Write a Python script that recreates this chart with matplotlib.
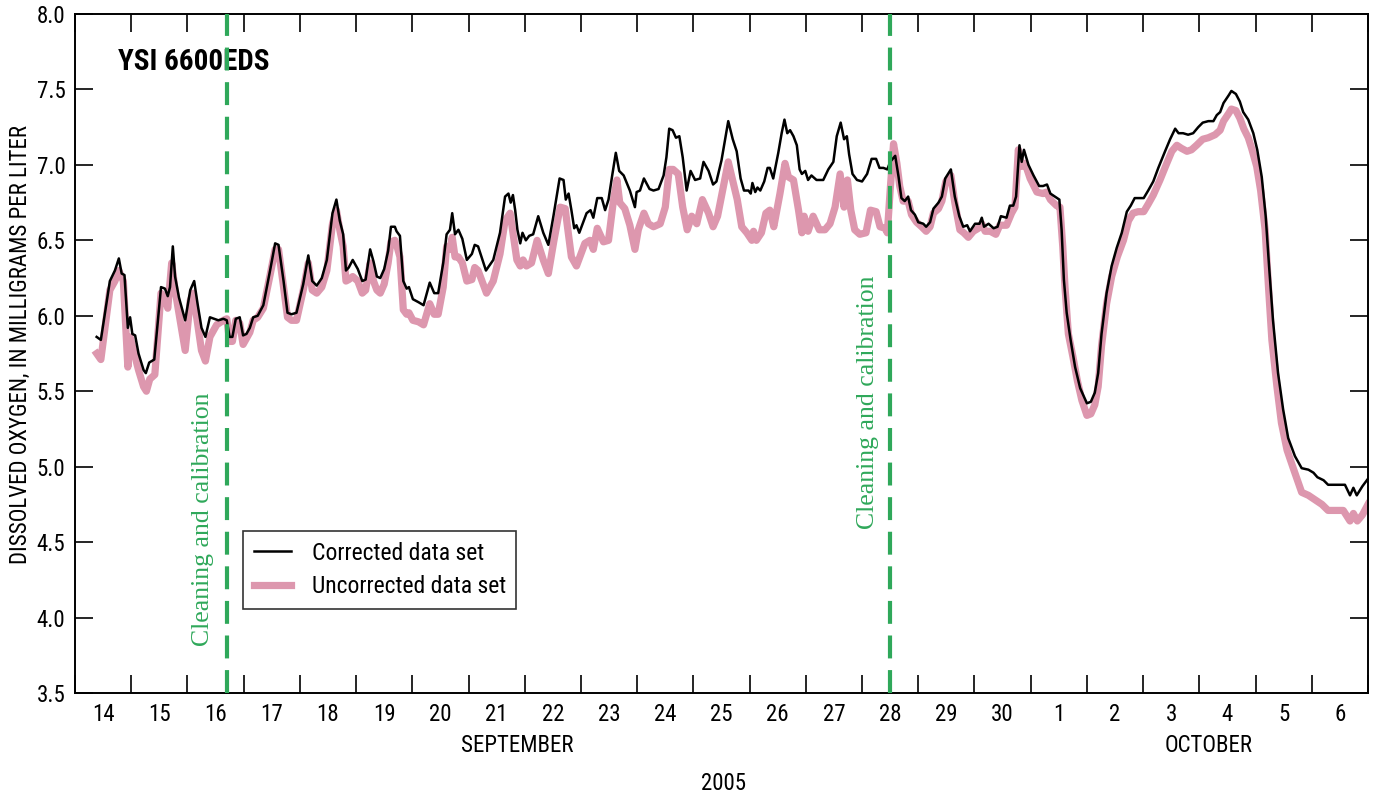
import matplotlib
matplotlib.use("Agg")
import matplotlib.pyplot as plt
from matplotlib import font_manager
from matplotlib.lines import Line2D

# ---------------- data (days since 14 Sep 2005 00:00, mg/L) ----------------
corr_day = [0.385, 0.46, 0.62, 0.71, 0.78, 0.83, 0.88, 0.94, 0.98, 1.02, 1.07, 1.13, 1.22, 1.26, 1.32, 1.41,
            1.53, 1.60, 1.65, 1.69, 1.74, 1.78, 1.85, 1.96, 2.05, 2.12, 2.18, 2.25, 2.32, 2.40, 2.55, 2.64,
            2.70, 2.75, 2.80, 2.86, 2.93, 2.99, 3.05, 3.11, 3.17, 3.25, 3.35, 3.47, 3.56, 3.62, 3.71, 3.78,
            3.85, 3.94, 4.06, 4.15, 4.22, 4.30, 4.39, 4.48, 4.58, 4.65, 4.71, 4.77, 4.82, 4.87, 4.94, 5.03,
            5.11, 5.17, 5.25, 5.31, 5.37, 5.43, 5.50, 5.57, 5.62, 5.69, 5.72, 5.78, 5.84, 5.90, 5.94, 6.01,
            6.11, 6.20, 6.31, 6.39, 6.46, 6.55, 6.61, 6.67, 6.71, 6.76, 6.82, 6.89, 6.97, 7.06, 7.11, 7.17,
            7.31, 7.44, 7.56, 7.65, 7.71, 7.75, 7.79, 7.83, 7.87, 7.92, 7.96, 8.02, 8.08, 8.15, 8.24, 8.33,
            8.42, 8.51, 8.62, 8.69, 8.73, 8.78, 8.83, 8.88, 8.92, 8.97, 9.04, 9.10, 9.17, 9.22, 9.29, 9.37,
            9.43, 9.49, 9.56, 9.62, 9.68, 9.76, 9.87, 9.96, 9.99, 10.05, 10.12, 10.22, 10.29, 10.38, 10.47,
            10.52, 10.57, 10.63, 10.69, 10.75, 10.81, 10.88, 10.95, 11.03, 11.12, 11.18, 11.27, 11.35, 11.41,
            11.50, 11.62, 11.70, 11.77, 11.84, 11.90, 11.98, 12.02, 12.05, 12.10, 12.14, 12.19, 12.26, 12.32,
            12.36, 12.42, 12.51, 12.57, 12.62, 12.67, 12.72, 12.78, 12.84, 12.89, 12.93, 12.99, 13.04, 13.10,
            13.19, 13.31, 13.40, 13.49, 13.55, 13.62, 13.68, 13.73, 13.77, 13.83, 13.91, 14.00, 14.09, 14.17,
            14.25, 14.31, 14.38, 14.45,
            14.50, 14.59, 14.65, 14.70, 14.76, 14.82, 14.87, 14.94, 15.00, 15.09, 15.14, 15.21, 15.27, 15.36,
            15.42, 15.48, 15.58, 15.65, 15.73, 15.80, 15.87, 15.92, 16.01, 16.09, 16.13, 16.17, 16.25, 16.34,
            16.41, 16.47, 16.57, 16.63, 16.69, 16.74, 16.80, 16.84, 16.88, 16.96, 17.05, 17.15, 17.22, 17.29,
            17.35, 17.43, 17.51, 17.55, 17.59, 17.64, 17.71, 17.79, 17.88, 18.00, 18.07, 18.14, 18.20, 18.26,
            18.35, 18.44, 18.53, 18.62, 18.71, 18.78, 18.85, 18.94, 19.01, 19.09, 19.18, 19.27, 19.39, 19.48,
            19.57, 19.63, 19.71, 19.80, 19.89, 19.98, 20.06, 20.16, 20.25, 20.31, 20.37, 20.43, 20.52, 20.57,
            20.65, 20.72, 20.78, 20.87, 20.96, 21.03, 21.11, 21.18, 21.24, 21.31, 21.40, 21.49, 21.58, 21.70,
            21.82, 21.94, 22.03, 22.10, 22.21, 22.29, 22.38, 22.50, 22.59, 22.68, 22.74, 22.80, 22.90, 23.00]
corr_val = [5.86, 5.84, 6.23, 6.30, 6.38, 6.28, 6.27, 5.92, 5.99, 5.88, 5.87, 5.75, 5.64, 5.62, 5.69, 5.71,
            6.19, 6.18, 6.13, 6.19, 6.46, 6.26, 6.12, 5.97, 6.17, 6.23, 6.08, 5.92, 5.86, 5.99, 5.97, 5.98,
            5.97, 5.86, 5.86, 5.98, 5.99, 5.87, 5.88, 5.92, 5.99, 6.00, 6.07, 6.30, 6.48, 6.47, 6.23, 6.02,
            6.01, 6.02, 6.21, 6.40, 6.23, 6.20, 6.25, 6.37, 6.68, 6.77, 6.63, 6.54, 6.30, 6.32, 6.37, 6.31,
            6.23, 6.24, 6.44, 6.36, 6.26, 6.25, 6.31, 6.43, 6.59, 6.59, 6.56, 6.53, 6.23, 6.18, 6.19, 6.11,
            6.09, 6.07, 6.22, 6.15, 6.15, 6.35, 6.54, 6.57, 6.68, 6.54, 6.57, 6.51, 6.37, 6.41, 6.47, 6.46,
            6.30, 6.37, 6.55, 6.79, 6.81, 6.75, 6.80, 6.70, 6.57, 6.48, 6.55, 6.50, 6.53, 6.54, 6.66, 6.55,
            6.47, 6.66, 6.91, 6.90, 6.77, 6.81, 6.70, 6.58, 6.60, 6.55, 6.62, 6.68, 6.70, 6.65, 6.78, 6.78,
            6.70, 6.77, 6.94, 7.08, 6.96, 6.93, 6.83, 6.72, 6.82, 6.83, 6.91, 6.84, 6.83, 6.84, 6.93,
            7.05, 7.24, 7.23, 7.18, 7.19, 7.05, 6.83, 6.96, 6.90, 6.91, 7.02, 6.96, 6.87, 6.89,
            7.03, 7.29, 7.17, 7.09, 6.91, 6.83, 6.83, 6.81, 6.88, 6.82, 6.85, 6.83, 6.89, 6.98,
            6.98, 6.91, 7.08, 7.21, 7.30, 7.21, 7.23, 7.19, 7.13, 6.97, 6.94, 6.96, 6.90, 6.93,
            6.90, 6.90, 6.97, 7.02, 7.19, 7.28, 7.17, 7.19, 7.07, 6.94, 6.90, 6.89, 6.94, 7.04,
            7.04, 6.98, 6.98, 6.97,
            7.02, 7.06, 6.92, 6.78, 6.76, 6.79, 6.70, 6.67, 6.62, 6.61, 6.59, 6.62, 6.71, 6.75,
            6.79, 6.91, 6.97, 6.79, 6.66, 6.59, 6.60, 6.56, 6.61, 6.61, 6.65, 6.59, 6.61, 6.58,
            6.59, 6.66, 6.65, 6.73, 6.73, 6.79, 7.13, 7.02, 7.10, 7.00, 6.93, 6.86, 6.86, 6.87,
            6.81, 6.79, 6.77, 6.57, 6.24, 6.02, 5.84, 5.66, 5.52, 5.42, 5.43, 5.49, 5.62, 5.88,
            6.15, 6.33, 6.45, 6.55, 6.69, 6.73, 6.78, 6.78, 6.78, 6.83, 6.89, 6.98, 7.09, 7.17,
            7.24, 7.21, 7.21, 7.20, 7.21, 7.25, 7.28, 7.29, 7.29, 7.33, 7.35, 7.41, 7.46, 7.49,
            7.47, 7.42, 7.35, 7.30, 7.21, 7.10, 6.92, 6.66, 6.33, 5.97, 5.62, 5.38, 5.19, 5.07,
            4.99, 4.98, 4.96, 4.93, 4.91, 4.88, 4.88, 4.88, 4.88, 4.81, 4.86, 4.81, 4.87, 4.92]

unc_day = [0.385, 0.46, 0.62, 0.71, 0.78, 0.86, 0.94, 0.98, 1.04, 1.13, 1.22, 1.27, 1.33, 1.42, 1.53, 1.61,
           1.65, 1.72, 1.78, 1.87, 1.96, 2.05, 2.10, 2.18, 2.25, 2.32, 2.40, 2.52, 2.64, 2.70, 2.75, 2.80,
           2.86, 2.93, 2.99, 3.05, 3.11, 3.17, 3.25, 3.35, 3.47, 3.56, 3.62, 3.71, 3.78, 3.85, 3.94, 4.06,
           4.15, 4.22, 4.30, 4.39, 4.48, 4.58, 4.65, 4.71, 4.77, 4.82, 4.87, 4.94, 5.03, 5.11, 5.17, 5.25,
           5.31, 5.37, 5.43, 5.50, 5.57, 5.62, 5.69, 5.72, 5.78, 5.84, 5.90, 5.94, 6.01, 6.11, 6.20, 6.31,
           6.39, 6.46, 6.55, 6.61, 6.67, 6.71, 6.76, 6.82, 6.89, 6.97, 7.06, 7.11, 7.17,
           7.32, 7.44, 7.56, 7.65, 7.74, 7.79, 7.86, 7.92, 7.97, 8.03, 8.12, 8.22, 8.33, 8.42, 8.52, 8.63,
           8.72, 8.76, 8.83, 8.92, 8.98, 9.07, 9.16, 9.22, 9.29, 9.40, 9.49, 9.58, 9.64, 9.69, 9.78, 9.87,
           9.96, 10.02, 10.12, 10.20, 10.29, 10.41, 10.50, 10.57, 10.64, 10.73, 10.81, 10.89, 10.97, 11.06,
           11.16, 11.27, 11.35, 11.43, 11.52, 11.62, 11.71, 11.78, 11.86, 11.95, 12.04, 12.07, 12.12, 12.21,
           12.29, 12.36, 12.43, 12.54, 12.63, 12.69, 12.78, 12.87, 12.93, 12.97, 13.04, 13.13, 13.24, 13.34,
           13.43, 13.52, 13.61, 13.68, 13.74, 13.80, 13.87, 13.96, 14.07, 14.15, 14.25, 14.32, 14.41, 14.45,
           14.50, 14.56, 14.62, 14.67, 14.73, 14.82, 14.88, 14.97, 15.06, 15.14, 15.21, 15.27, 15.36, 15.42,
           15.49, 15.58, 15.65, 15.74, 15.81, 15.89, 15.98, 16.07, 16.13, 16.19, 16.28, 16.38, 16.45, 16.57,
           16.66, 16.72, 16.78, 16.84, 16.90, 16.99, 17.11, 17.22, 17.28, 17.35, 17.46, 17.52, 17.57, 17.61,
           17.67, 17.75, 17.83, 17.91, 18.00, 18.07, 18.14, 18.20, 18.26, 18.35, 18.44, 18.54, 18.65, 18.74,
           18.82, 18.91, 19.01, 19.09, 19.18, 19.30, 19.42, 19.51, 19.60, 19.68, 19.78, 19.86, 19.95, 20.06,
           20.16, 20.28, 20.37, 20.43, 20.52, 20.57, 20.65, 20.72, 20.79, 20.87, 20.93, 21.02, 21.09, 21.17,
           21.23, 21.29, 21.38, 21.46, 21.56, 21.67, 21.82, 21.94, 22.06, 22.18, 22.29, 22.41, 22.56, 22.68,
           22.74, 22.81, 22.90, 23.00]
unc_val = [5.75, 5.71, 6.17, 6.23, 6.30, 6.23, 5.66, 5.86, 5.77, 5.64, 5.53, 5.50, 5.58, 5.61, 6.15, 6.11,
           6.05, 6.35, 6.17, 5.97, 5.77, 6.10, 6.15, 5.95, 5.77, 5.70, 5.86, 5.94, 5.97, 5.98, 5.83, 5.83,
           5.97, 5.95, 5.81, 5.85, 5.89, 5.97, 5.99, 6.05, 6.27, 6.44, 6.44, 6.19, 5.99, 5.97, 5.97, 6.17,
           6.35, 6.17, 6.15, 6.19, 6.30, 6.61, 6.70, 6.57, 6.46, 6.23, 6.24, 6.26, 6.23, 6.15, 6.17, 6.35,
           6.23, 6.17, 6.15, 6.21, 6.35, 6.49, 6.50, 6.47, 6.39, 6.04, 6.01, 6.02, 5.97, 5.96, 5.94, 6.08,
           6.01, 6.01, 6.19, 6.46, 6.44, 6.52, 6.39, 6.39, 6.35, 6.23, 6.24, 6.32, 6.30,
           6.15, 6.23, 6.41, 6.63, 6.68, 6.55, 6.37, 6.33, 6.37, 6.33, 6.35, 6.50, 6.37, 6.28, 6.50, 6.72,
           6.71, 6.59, 6.39, 6.33, 6.39, 6.48, 6.50, 6.44, 6.58, 6.49, 6.50, 6.77, 6.90, 6.75, 6.71, 6.60,
           6.44, 6.57, 6.68, 6.61, 6.59, 6.61, 6.72, 6.97, 6.97, 6.94, 6.72, 6.57, 6.66, 6.61,
           6.77, 6.68, 6.59, 6.66, 6.83, 7.02, 6.88, 6.77, 6.59, 6.55, 6.50, 6.56, 6.50, 6.55,
           6.68, 6.70, 6.59, 6.81, 7.01, 6.92, 6.90, 6.70, 6.55, 6.66, 6.56, 6.66, 6.57, 6.57,
           6.61, 6.72, 6.94, 6.72, 6.90, 6.70, 6.57, 6.54, 6.55, 6.70, 6.69, 6.59, 6.58, 6.55,
           6.83, 7.14, 7.01, 6.86, 6.76, 6.76, 6.67, 6.62, 6.59, 6.56, 6.59, 6.68, 6.71, 6.76,
           6.89, 6.93, 6.75, 6.57, 6.55, 6.52, 6.56, 6.58, 6.61, 6.56, 6.56, 6.54, 6.60, 6.60,
           6.68, 6.72, 7.10, 6.99, 7.01, 6.91, 6.82, 6.81, 6.82, 6.77, 6.73, 6.72, 6.46, 6.19,
           5.88, 5.73, 5.57, 5.44, 5.34, 5.35, 5.41, 5.53, 5.80, 6.08, 6.26, 6.39, 6.50, 6.63,
           6.68, 6.69, 6.69, 6.74, 6.80, 6.90, 7.01, 7.09, 7.13, 7.11, 7.09, 7.10, 7.13, 7.17,
           7.18, 7.20, 7.23, 7.29, 7.34, 7.37, 7.36, 7.31, 7.24, 7.18, 7.11, 6.99, 6.83, 6.57,
           6.19, 5.84, 5.53, 5.29, 5.11, 4.99, 4.83, 4.81, 4.78, 4.75, 4.71, 4.71, 4.71, 4.64,
           4.69, 4.64, 4.68, 4.75]

calib_day = [2.70, 14.50]
day_labels = ['14', '15', '16', '17', '18', '19', '20', '21', '22', '23', '24', '25', '26', '27', '28',
              '29', '30', '1', '2', '3', '4', '5', '6']
y_ticks = [3.5, 4.0, 4.5, 5.0, 5.5, 6.0, 6.5, 7.0, 7.5, 8.0]

# ---------------- fonts ----------------
names = {f.name for f in font_manager.fontManager.ttflist}
cond = 'DejaVu Sans'
for cand in ['Liberation Sans Narrow', 'Roboto Condensed', 'Open Sans Condensed', 'Liberation Sans']:
    if cand in names:
        cond = cand
        break
plt.rcParams['font.family'] = [cond, 'DejaVu Sans']

PINK = '#dd97ae'
GREEN = '#2fa85a'

fig = plt.figure(figsize=(13.76, 7.97), dpi=100)
ax = fig.add_axes([75 / 1376, 1 - 693 / 797, 1293 / 1376, 679 / 797])

ax.plot(unc_day, unc_val, color=PINK, lw=5.2, solid_joinstyle='round', zorder=2)
ax.plot(corr_day, corr_val, color='black', lw=1.8, zorder=3)

for d in calib_day:
    ax.axvline(d, color=GREEN, lw=3, linestyle=(0, (5.5, 2.8)), zorder=4)

ax.set_xlim(0, 23)
ax.set_ylim(3.5, 8.0)

ax.set_xticks(range(0, 24))
ax.set_xticklabels([])
ax.set_xticks([i + 0.5 for i in range(23)], minor=True)
ax.set_xticklabels(day_labels, minor=True, fontsize=16.5)
ax.tick_params(axis='x', which='major', direction='in', length=13, width=1.2, top=True, bottom=True)
ax.tick_params(axis='x', which='minor', length=0, pad=7)
ax.set_yticks(y_ticks)
ax.set_yticklabels([f'{v:.1f}' for v in y_ticks], fontsize=16.5)
ax.tick_params(axis='y', direction='in', length=13, width=1.2, left=True, right=True, pad=7)
for s in ax.spines.values():
    s.set_linewidth(1.4)

# text annotations
ax.text(0.033, 0.929, 'YSI 6600EDS', transform=ax.transAxes, fontsize=21, fontweight='bold',
        ha='left', va='center')
ax.text(2.28, 4.65, 'Cleaning and calibration', rotation=90, color=GREEN, fontsize=18.5,
        family=['Liberation Serif', 'DejaVu Serif'], ha='center', va='center')
ax.text(14.10, 5.43, 'Cleaning and calibration', rotation=90, color=GREEN, fontsize=18.5,
        family=['Liberation Serif', 'DejaVu Serif'], ha='center', va='center')

fig.text(20 / 1376, 1 - 345 / 797, 'DISSOLVED OXYGEN, IN MILLIGRAMS PER LITER', rotation=90,
         ha='center', va='center', fontsize=16.5)
fig.text(517 / 1376, 1 - 745 / 797, 'SEPTEMBER', ha='center', va='center', fontsize=16.5)
fig.text(1209 / 1376, 1 - 745 / 797, 'OCTOBER', ha='center', va='center', fontsize=16.5)
fig.text(723 / 1376, 1 - 783 / 797, '2005', ha='center', va='center', fontsize=16.5)

handles = [Line2D([], [], color='black', lw=1.8), Line2D([], [], color=PINK, lw=5.2)]
leg = ax.legend(handles, ['Corrected data set', 'Uncorrected data set'], loc='lower left',
                bbox_to_anchor=(0.130, 0.124), borderaxespad=0, fontsize=17, frameon=True,
                fancybox=False, edgecolor='black', handlelength=1.6, handletextpad=0.85,
                borderpad=0.45, labelspacing=0.45)
leg.get_frame().set_linewidth(1.2)

fig.savefig('out.png', dpi=100)
